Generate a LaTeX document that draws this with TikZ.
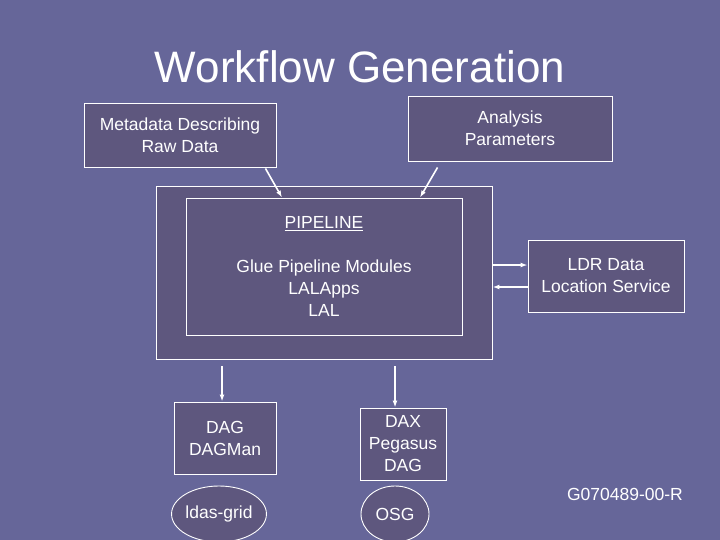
\documentclass[tikz,border=0pt]{standalone}
\usepackage{fontspec}
\setmainfont{Liberation Sans}
\usetikzlibrary{positioning,arrows.meta,shapes.geometric}
\definecolor{slidebg}{RGB}{102,102,153}
\definecolor{boxfill}{RGB}{94,87,126}

\begin{document}
\begin{tikzpicture}[
  x=1pt, y=-1pt,
  every node/.style={draw=white, line width=0.9pt, fill=boxfill, align=center, text=white, font=\fontsize{17.5}{22}\selectfont, inner sep=0pt},
  arrow/.style={-{Latex[length=7pt,width=5pt]}, white, line width=1.6pt}
]
\fill[slidebg] (0,0) rectangle (720,540);
\useasboundingbox (0,0) rectangle (720,540);

\node (title) [draw=none, fill=none, font=\fontsize{44}{50}\selectfont] at (360,67) {Workflow Generation};

\node (meta) [minimum width=192, minimum height=64] at (180,135) {Metadata Describing\\Raw Data};
\node (params) [minimum width=204, minimum height=65] at (510,128.5) {Analysis\\Parameters};

\node (outer) [minimum width=336, minimum height=173] at (324,272.5) {};
\node (pipe) [minimum width=276, minimum height=137] at (324,266.5) {\underline{PIPELINE}\\[22pt]Glue Pipeline Modules\\LALApps\\LAL};

\node (ldr) [minimum width=156, minimum height=72] at (606,276) {LDR Data\\Location Service};

\node (dag) [minimum width=102, minimum height=72] at (225,438) {DAG\\DAGMan};
\node (dax) [minimum width=86, minimum height=72] at (403,444) {DAX\\Pegasus\\DAG};

\node (ldas) [ellipse, minimum width=80, minimum height=56] at (219,514) {ldas-grid};
\node (osg) [ellipse, minimum width=68, minimum height=56] at (395,514) {OSG};

\node (docid) [draw=none, fill=none] at (625,494) {G070489-00-R};

\draw[arrow] (meta.south east) ++(-11,1) coordinate (m1) (m1) -- (pipe.north -| 282,0);
\draw[arrow] (params.south west) ++(30,6) coordinate (p1) (p1) -- (pipe.north -| 420,0);
\draw[arrow] (outer.east |- 0,265) -- (ldr.west |- 0,265);
\draw[arrow] (ldr.west |- 0,287) -- (outer.east |- 0,287);
\draw[arrow] (outer.south -| 222,0) ++(0,7) coordinate (d1) (d1) -- (dag.north -| 222,0);
\draw[arrow] (outer.south -| 395,0) ++(0,7) coordinate (d2) (d2) -- (dax.north -| 395,0);
\end{tikzpicture}
\end{document}
